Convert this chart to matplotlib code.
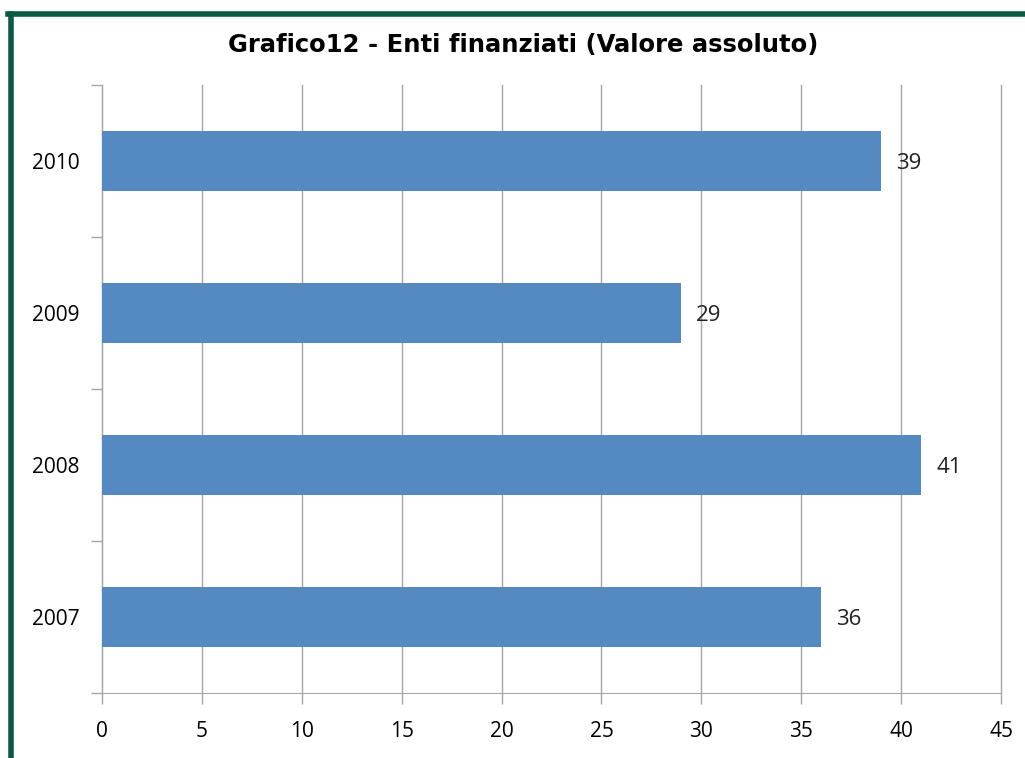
import matplotlib.pyplot as plt
from matplotlib.lines import Line2D

# Dati del grafico
anni = ['2007', '2008', '2009', '2010']
enti = [36, 41, 29, 39]
tick_x = [0, 5, 10, 15, 20, 25, 30, 35, 40, 45]

fig = plt.figure(figsize=(10.25, 7.58), dpi=100)
ax = fig.add_axes([102 / 1025, 1 - 693 / 758, 899 / 1025, 608 / 758])

pos = list(range(len(anni)))
barre = ax.barh(pos, enti, height=0.4, color='#5589c2', zorder=3)

for p, v in zip(pos, enti):
    ax.text(v + 0.75, p, str(v), va='center_baseline', ha='left',
            fontsize=16, family='Open Sans', color='#222222', zorder=4)

ax.set_xlim(0, 45)
ax.set_ylim(-0.5, len(anni) - 0.5)
ax.set_xticks(tick_x)
ax.set_xticklabels([str(t) for t in tick_x], fontsize=15, family='Open Sans')
ax.set_yticks(pos)
ax.set_yticklabels(anni, fontsize=15, family='Open Sans')
ax.set_yticks([p - 0.5 for p in range(len(anni) + 1)], minor=True)

ax.grid(axis='x', color='#a6a6a6', linewidth=1, zorder=0)
for g in ax.get_xgridlines():
    g.set_clip_on(False)
ax.tick_params(axis='x', length=8, color='#a6a6a6', pad=12, width=1)
ax.tick_params(axis='y', which='major', length=0, pad=16)
ax.tick_params(axis='y', which='minor', length=8, color='#a6a6a6', width=1)

for lato in ['top', 'right']:
    ax.spines[lato].set_visible(False)
for lato in ['left', 'bottom']:
    ax.spines[lato].set_color('#a6a6a6')

fig.text(523 / 1025, 1 - 45 / 758, 'Grafico12 - Enti finanziati (Valore assoluto)',
         ha='center', va='center', fontsize=17.5, fontweight='bold', family='DejaVu Sans')

# bordo verde in alto e a sinistra
fig.add_artist(Line2D([10.5 / 1025, 10.5 / 1025], [0, 1 - 13.5 / 758],
                      color='#0b5a45', linewidth=4, transform=fig.transFigure))
fig.add_artist(Line2D([8 / 1025, 1], [1 - 13.5 / 758, 1 - 13.5 / 758],
                      color='#0b5a45', linewidth=4, transform=fig.transFigure))

fig.savefig('out.png', dpi=100)
